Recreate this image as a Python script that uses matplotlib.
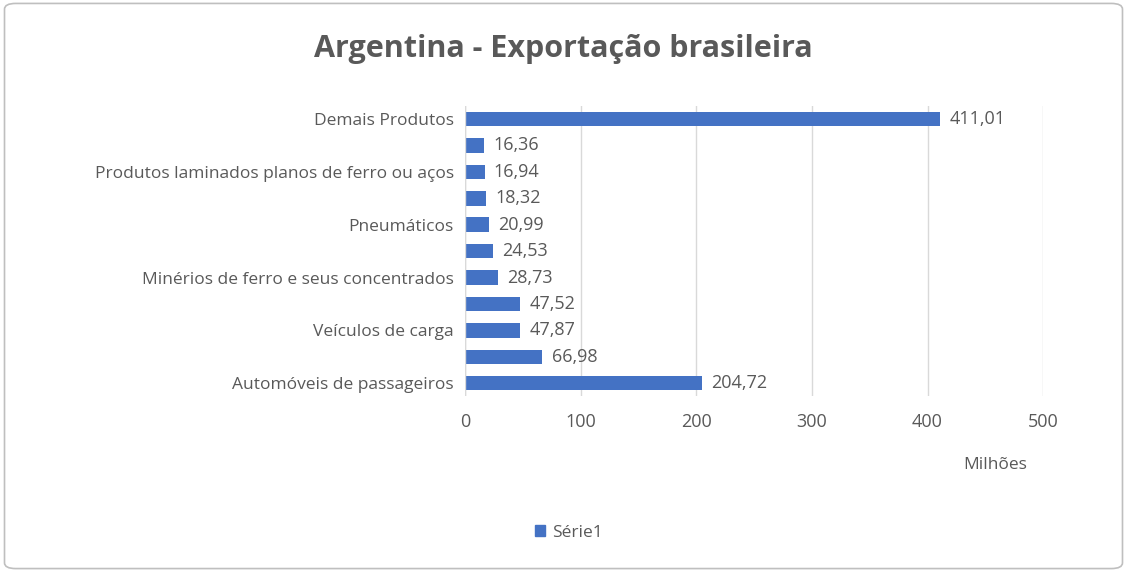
import matplotlib; matplotlib.use('Agg')
import matplotlib.pyplot as plt
from matplotlib.patches import FancyBboxPatch, Patch

labels = ['Automóveis de passageiros', '', 'Veículos de carga', '',
          'Minérios de ferro e seus concentrados', '', 'Pneumáticos', '',
          'Produtos laminados planos de ferro ou aços', '', 'Demais Produtos']
values = [204.72, 66.98, 47.87, 47.52, 28.73, 24.53, 20.99, 18.32, 16.94, 16.36, 411.01]
xticks = [0, 100, 200, 300, 400, 500]

GREY = '#595959'
plt.rcParams['font.family'] = ['Open Sans', 'DejaVu Sans']

fig = plt.figure(figsize=(11.27, 5.72), dpi=100)
border = FancyBboxPatch((0.004, 0.006), 0.992, 0.988, boxstyle='round,pad=0,rounding_size=0.01',
                        transform=fig.transFigure, fc='white', ec='#bfbfbf', lw=1.2, zorder=-10)
fig.patches.append(border)
ax = fig.add_axes([0.4126, 0.307, 0.513, 0.508])
ax.set_zorder(5)
ax.patch.set_alpha(0)
y = range(len(values))
ax.barh(y, values, height=0.55, color='#4472C4', zorder=3)
for yi, v in zip(y, values):
    ax.text(v + 8, yi, f'{v:.2f}'.replace('.', ','), va='center', ha='left', fontsize=13, color=GREY)
ax.set_xlim(0, 500)
ax.set_ylim(-0.5, len(values) - 0.5)
ax.set_yticks(list(y))
ax.set_yticklabels(labels, fontsize=12.5, color=GREY)
ax.set_xticks(xticks)
ax.set_xticklabels([str(t) for t in xticks], fontsize=13, color=GREY)
ax.tick_params(length=0, pad=8)
ax.tick_params(axis='x', pad=12)
ax.grid(axis='x', color='#d9d9d9', lw=1, zorder=0)
for s in ax.spines.values():
    s.set_visible(False)
ax.axvline(0, color='#d9d9d9', lw=1, zorder=4)

fig.text(0.50, 0.915, 'Argentina - Exportação brasileira', ha='center', va='center',
         fontsize=22, fontweight='bold', color=GREY)
fig.text(0.883, 0.187, 'Milhões', ha='center', va='center', fontsize=12.5, color=GREY)
fig.legend(handles=[Patch(color='#4472C4', label='Série1')], loc='center', bbox_to_anchor=(0.505, 0.068),
           frameon=False, fontsize=12.5, labelcolor=GREY, handlelength=0.6, handleheight=0.6, handletextpad=0.4)
fig.savefig('out.png', dpi=100)
